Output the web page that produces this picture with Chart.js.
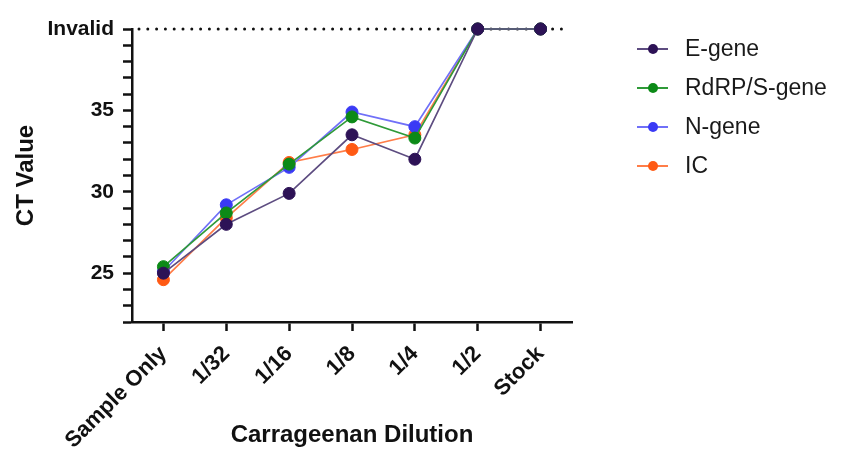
<!DOCTYPE html>
<html>
<head>
<meta charset="utf-8">
<script src="https://cdn.jsdelivr.net/npm/chart.js@4.4.1/dist/chart.umd.min.js"></script>
<style>
  html, body { margin: 0; padding: 0; background: #fff; }
  #wrap { position: relative; width: 856px; height: 453px; }
  #legend {
    position: absolute; left: 637px; top: 29px;
    font-family: "Liberation Sans", Arial, sans-serif; font-size: 23px; color: #1a1a1a;
  }
  .item { display: flex; align-items: center; height: 39px; white-space: nowrap; }
  .mark { position: relative; width: 31px; height: 12px; margin-right: 17px; flex: none; }
  .mark .ln { position: absolute; left: 0; right: 0; top: 5px; height: 2px; }
  .mark .dt { position: absolute; left: 10.5px; top: 1px; width: 10px; height: 10px; border-radius: 50%; }
</style>
</head>
<body>
<div id="wrap">
  <canvas id="c" width="856" height="453"></canvas>
  <div id="legend"></div>
</div>
<script>
// Dilution steps on the x axis
const dilutions = ['Sample Only', '1/32', '1/16', '1/8', '1/4', '1/2', 'Stock'];

// CT values per target; 40 marks an invalid run
const eGene           = [25.0, 28.0, 29.9, 33.5, 32.0, 40, 40];
const rdrpSGene       = [25.4, 28.7, 31.7, 34.6, 33.3, 40, 40];
const nGene           = [25.1, 29.2, 31.5, 34.9, 34.0, 40, 40];
const internalControl = [24.6, 28.4, 31.8, 32.6, 33.5, 40, 40];

const seriesNames = ['E-gene', 'RdRP/S-gene', 'N-gene', 'IC'];
const seriesValues = [eGene, rdrpSGene, nGene, internalControl];

// y tick labels shown on the CT axis
const INVALID_CT = 40;
const yTickLabels = { 25: '25', 30: '30', 35: '35', 40: 'Invalid' };

const pointColors = ['#2d1256', '#0c8a17', '#3a3af5', '#ff5a14'];
const lineColors  = ['#5d4c80', '#2f9a38', '#7070f8', '#ff7d48'];

const FONT = '"Liberation Sans", Arial, sans-serif';
const INK = '#111';

// dotted reference line at the "Invalid" level
const invalidLine = {
  id: 'invalidLine',
  beforeDatasetsDraw(chart) {
    const { ctx, chartArea, scales } = chart;
    const py = scales.y.getPixelForValue(INVALID_CT);
    ctx.save();
    ctx.strokeStyle = INK;
    ctx.lineWidth = 3;
    ctx.lineCap = 'round';
    ctx.setLineDash([0, 8.8]);
    ctx.beginPath();
    ctx.moveTo(chartArea.left + 7, py);
    ctx.lineTo(chartArea.right - 8, py);
    ctx.stroke();
    ctx.restore();
  }
};

new Chart(document.getElementById('c'), {
  type: 'line',
  data: {
    labels: dilutions,
    datasets: seriesNames.map((name, i) => ({
      label: name,
      data: seriesValues[i],
      borderColor: lineColors[i],
      backgroundColor: pointColors[i],
      pointBackgroundColor: pointColors[i],
      pointBorderColor: pointColors[i],
      pointRadius: 6,
      pointBorderWidth: 1,
      borderWidth: 1.7,
      tension: 0,
      clip: false
    }))
  },
  options: {
    responsive: false,
    animation: false,
    devicePixelRatio: 1,
    layout: { padding: { left: 0, right: 284, top: 29, bottom: 0 } },
    plugins: { legend: { display: false }, tooltip: { enabled: false } },
    scales: {
      x: {
        type: 'category',
        offset: true,
        grid: { drawOnChartArea: false, offset: false, tickLength: 9, tickWidth: 2.5, tickColor: INK },
        border: { display: true, color: INK, width: 2.5 },
        ticks: {
          autoSkip: false, minRotation: 45, maxRotation: 45, padding: 10, color: INK,
          font: { family: FONT, size: 22, weight: 'bold' }
        },
        title: {
          display: true, text: 'Carrageenan Dilution', color: INK,
          font: { family: FONT, size: 24, weight: 'bold' },
          padding: { top: 0, bottom: 3 }
        },
        afterFit(scale) { scale.height = 131; }
      },
      y: {
        min: 22, max: 40,
        grid: { drawOnChartArea: false, tickLength: 9, tickWidth: 2.5, tickColor: INK },
        border: { display: true, color: INK, width: 2.5 },
        ticks: {
          stepSize: 1, autoSkip: false, padding: 9, color: INK,
          font: { family: FONT, size: 21, weight: 'bold' },
          callback: (v) => yTickLabels[v] ?? ''
        },
        title: {
          display: true, text: 'CT Value', color: INK,
          font: { family: FONT, size: 24, weight: 'bold' },
          padding: { top: 12, bottom: 0 }
        },
        afterFit(scale) { scale.width = 132; }
      }
    }
  },
  plugins: [invalidLine]
});

// legend: short line with a dot, then the series name
const legend = document.getElementById('legend');
seriesNames.forEach((name, i) => {
  const item = document.createElement('div');
  item.className = 'item';
  const mark = document.createElement('span');
  mark.className = 'mark';
  const ln = document.createElement('span');
  ln.className = 'ln';
  ln.style.background = lineColors[i];
  const dt = document.createElement('span');
  dt.className = 'dt';
  dt.style.background = pointColors[i];
  mark.appendChild(ln);
  mark.appendChild(dt);
  const txt = document.createElement('span');
  txt.textContent = name;
  item.appendChild(mark);
  item.appendChild(txt);
  legend.appendChild(item);
});
</script>
</body>
</html>
